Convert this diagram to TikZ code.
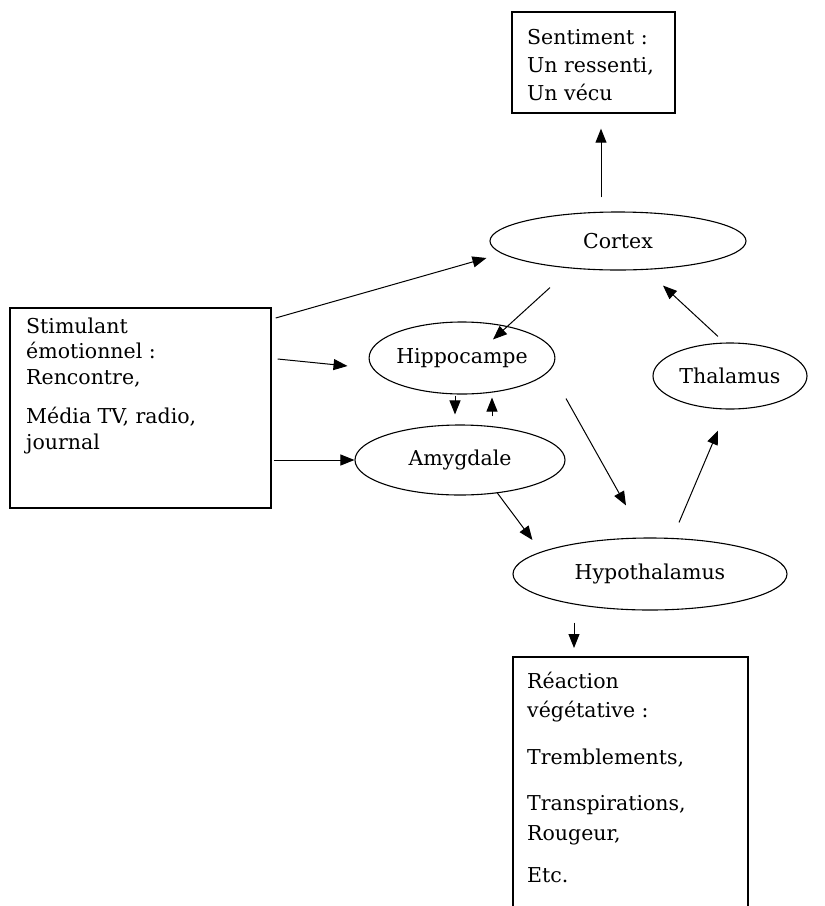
\documentclass[tikz,border=0pt]{standalone}
\usepackage{fontspec}
\setmainfont{DejaVu Serif}
\usetikzlibrary{arrows.meta,shapes.geometric}
\begin{document}
\begin{tikzpicture}[x=1pt,y=-1pt,
  box/.style={draw,line width=1.4pt,inner sep=0pt,rectangle},
  oval/.style={draw,ellipse,line width=1.1pt,inner sep=0pt,font=\fontsize{20.5}{24}\selectfont},
  arr/.style={line width=1pt,-{Triangle[length=14pt,width=11pt]}},
  txt/.style={anchor=base west,inner sep=0pt}]
\useasboundingbox[fill=white] (0,0) rectangle (825,906);

% boxes
\node[box,minimum width=163pt,minimum height=101pt] (sent) at (593.5,62.5) {};
\node[box,minimum width=261pt,minimum height=200pt] (stim) at (140.5,408) {};
\draw[line width=1.4pt] (513,910) |- (748,657) -- (748,910);
\coordinate (reac) at (574,657);

% box texts
\node[txt,font=\fontsize{20.5}{28}\selectfont] (senttxt) at (527,44)
  {\begin{tabular}[t]{@{}l@{}}Sentiment :\\ Un ressenti,\\ Un vécu\end{tabular}};
\node[txt,font=\fontsize{20.5}{25.5}\selectfont] (stimtxt) at (26,333)
  {\begin{tabular}[t]{@{}l@{}}Stimulant\\ émotionnel :\\ Rencontre,\\[14pt] Média TV, radio,\\ journal\end{tabular}};
\node[txt,font=\fontsize{20.5}{29.5}\selectfont] (reactxt) at (527,688)
  {\begin{tabular}[t]{@{}l@{}}Réaction\\ végétative :\\[17pt] Tremblements,\\[17pt] Transpirations,\\ Rougeur,\\[13pt] Etc.\end{tabular}};

% ellipses
\node[oval,minimum width=256pt,minimum height=58pt] (cor) at (618,241) {Cortex};
\node[oval,minimum width=168pt,minimum height=72pt] (hip) at (462,358) {Hippocampe};
\node[oval,minimum width=154pt,minimum height=66pt] (thal) at (730,376) {Thalamus};
\node[oval,minimum width=210pt,minimum height=70pt] (amy) at (460,460) {Amygdale};
\node[oval,minimum width=274pt,minimum height=72pt] (hyp) at (650,574) {Hypothalamus};

% connectors
\draw[arr] ([shift={(-17,-14)}]cor.north) -- ([shift={(7.5,15)}]sent.south);
\draw[arr] ([shift={(4,-90)}]stim.east) -- ([shift={(-3,17)}]cor.west);
\draw[arr] ([shift={(6,-49)}]stim.east) -- ([shift={(-21,8)}]hip.west);
\draw[arr] ([shift={(2,52)}]stim.east) -- (amy.west);
\draw[arr] ([shift={(-68,17)}]cor.south) -- ([shift={(31,18)}]hip.north);
\draw[arr] ([shift={(-12,-6)}]thal.north) -- ([shift={(45,15)}]cor.south);
\draw[arr] ([shift={(104,4)}]hip.south) -- ([shift={(-24,-32)}]hyp.north);
\draw[arr] ([shift={(37,-3)}]amy.south) -- ([shift={(20,-34)}]hyp.west);
\draw[arr] ([shift={(29,-15)}]hyp.north) -- ([shift={(-12,21)}]thal.south);
\draw[arr] ([shift={(-7,1)}]hip.south) -- ([shift={(-5,-10)}]amy.north);
\draw[arr] ([shift={(32,-8)}]amy.north) -- ([shift={(30,3)}]hip.south);
\draw[arr] ([shift={(-76,12)}]hyp.south) -- ([shift={(0,-9)}]reac);
\end{tikzpicture}
\end{document}
